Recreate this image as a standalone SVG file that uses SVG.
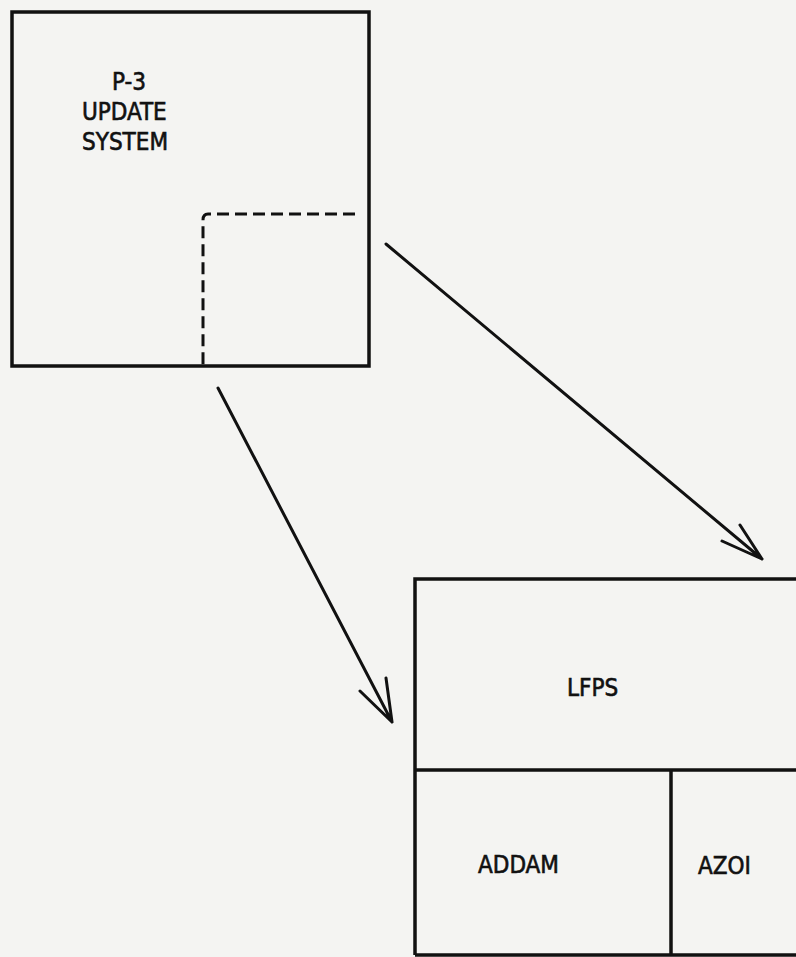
<svg xmlns="http://www.w3.org/2000/svg" width="796" height="957" viewBox="0 0 796 957">
<style>
.box{fill:none;stroke:#111;stroke-width:3.5}
.dash{fill:none;stroke:#111;stroke-width:3;stroke-dasharray:12 6}
.conn{fill:none;stroke:#111;stroke-width:3;stroke-linecap:round;stroke-linejoin:round}
text{font-family:"DejaVu Sans Condensed","DejaVu Sans",sans-serif;font-size:24px;fill:#111;stroke:#111;stroke-width:0.6}
</style>
<rect width="796" height="957" fill="#f4f4f2"/>
<g id="p3">
<rect class="box" x="12" y="12" width="357" height="354"/>
<path class="dash" d="M355 214 H208 Q203 214 203 220 V366"/>
<text x="112" y="90">P-3</text>
<text x="82" y="120">UPDATE</text>
<text x="82" y="150">SYSTEM</text>
</g>
<g id="lfps">
<path class="box" d="M796 579 H415 V955 M415 770 H796"/>
<text x="567" y="696">LFPS</text>
</g>
<g id="addam">
<path class="box" d="M671 770 V955 M415 955 H796"/>
<text x="478" y="873">ADDAM</text>
</g>
<g id="azoi">
<text x="698" y="874">AZOI</text>
</g>
<g id="connectors">
<path class="conn" d="M218 388 L392 722 M360 691 L392 722 L386 678"/>
<path class="conn" d="M386 244 L762 559 M722 541 L762 559 L740 525"/>
</g>
</svg>
